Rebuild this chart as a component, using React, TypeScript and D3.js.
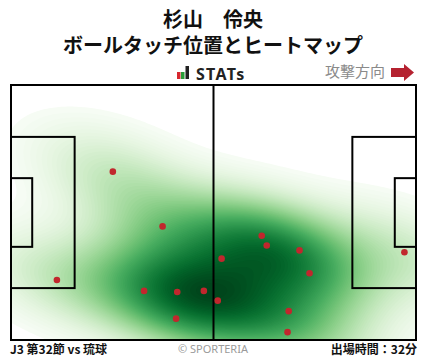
import React, { useMemo } from "react";
import * as d3 from "d3";

const titleLines = ["杉山　伶央", "ボールタッチ位置とヒートマップ"];
const matchLabel = "J3 第32節 vs 琉球";
const minutesLabel = "出場時間：32分";
const creditLabel = "© SPORTERIA";
const directionLabel = "攻撃方向";
const brandLabel = "STATs";

// touch positions in pitch metres (x along length 0..105, y across 0..68 from top)
const touchX = [26.4, 39.3, 11.9, 34.5, 43.1, 50.0, 42.8, 53.6, 54.6, 65.0, 66.3, 74.8, 77.4, 72.0, 71.7, 102.0];
const touchY = [23.1, 37.7, 52.0, 54.9, 55.2, 54.9, 62.3, 57.5, 46.3, 40.2, 42.8, 44.1, 50.2, 60.3, 65.9, 44.6];

const W = 428, H = 359;
const FX = 11, FY = 85, FW = 405, FH = 255;
const PITCH_L = 105, PITCH_W = 68;
// kernel: major / minor bandwidth in metres and tilt of the major axis
const BW_MAJOR = 15.5;
const BW_MINOR = 8.0;
const BW_ANGLE = 20;
const CUT = 0.19;

export default function App() {
  const sx = d3.scaleLinear().domain([0, PITCH_L]).range([FX, FX + FW]);
  const sy = d3.scaleLinear().domain([0, PITCH_W]).range([FY, FY + FH]);

  const layers = useMemo(() => {
    const n = touchX.length;
    const px = touchX.map((v) => sx(v));
    const py = touchY.map((v) => sy(v));
    const kx = FW / PITCH_L;
    const s1 = BW_MAJOR * kx, s2 = BW_MINOR * kx;
    const th = (BW_ANGLE * Math.PI) / 180;
    const ct = Math.cos(th), st = Math.sin(th);
    const dens = (x: number, y: number) => {
      let s = 0;
      for (let i = 0; i < n; i++) {
        const dx = x - px[i], dy = y - py[i];
        const u = (dx * ct + dy * st) / s1;
        const v = (-dx * st + dy * ct) / s2;
        s += Math.exp(-0.5 * (u * u + v * v));
      }
      return s;
    };
    const dth = CUT;
    const step = 2, x0 = FX - 2, y0 = FY - 2;
    const nx = Math.ceil((FW + 4) / step) + 1, ny = Math.ceil((FH + 4) / step) + 1;
    const vals = new Array(nx * ny);
    for (let j = 0; j < ny; j++) for (let i = 0; i < nx; i++) vals[j * nx + i] = dens(x0 + i * step, y0 + j * step);
    const dmax = d3.max(vals)!;
    const L = 80;
    const levels = d3.range(L).map((k) => dth + (dmax - dth) * (k / L));
    const color = d3
      .scaleSequentialPow(d3.interpolateGreens)
      .exponent(0.85)
      .domain([dth, dmax]);
    const contours = d3.contours().size([nx, ny]).thresholds(levels)(vals);
    const path = d3.geoPath(
      d3.geoTransform({
        point(x: number, y: number) {
          (this as any).stream.point(x0 + (x - 0.5) * step, y0 + (y - 0.5) * step);
        },
      })
    );
    return contours.map((cn, k) => ({
      d: path(cn as any) || "",
      fill: color(levels[k] + (dmax - dth) / L / 2),
    }));
  }, []);

  const paW = sx(16.5) - sx(0), paH = sy(54.16) - sy(13.84);
  const gaW = sx(5.5) - sx(0), gaH = sy(43.16) - sy(24.84);

  return (
    <svg width={W} height={H} style={{ position: "absolute", left: 0, top: 0, background: "#fff" }}>
      <rect x={0} y={0} width={W} height={H} fill="#fff" />
      <g fontFamily="'Noto Sans CJK JP', sans-serif" fontWeight="bold" fill="#111" textAnchor="middle" fontSize={20}>
        <text x={213} y={27}>{titleLines[0]}</text>
        <text x={213} y={53}>{titleLines[1]}</text>
      </g>
      <g>
        <rect x={177} y={72} width={3.5} height={7} fill="#d7282f" />
        <rect x={181} y={72} width={3.5} height={7} fill="#2a9d3a" />
        <rect x={185.5} y={66} width={3.5} height={13} fill="#222" />
        <text x={196} y={79.5} fontFamily="'Noto Sans', sans-serif" fontWeight="bold" fontSize={16} fill="#222" letterSpacing={1.3}>{brandLabel}</text>
      </g>
      <text x={385} y={77} textAnchor="end" fontFamily="'Noto Sans CJK JP', sans-serif" fontSize={15} fill="#8a8a8a">{directionLabel}</text>
      <path d="M391,68 L404,68 L404,64 L414,72.5 L404,81 L404,77 L391,77 Z" fill="#b52230" />

      <defs>
        <clipPath id="fieldClip">
          <rect x={FX} y={FY} width={FW} height={FH} />
        </clipPath>
      </defs>
      <g clipPath="url(#fieldClip)">
        {layers.map((l, i) => (
          <path key={i} d={l.d} fill={l.fill} stroke="none" />
        ))}
      </g>
      <g fill="none" stroke="#000" strokeWidth={2}>
        <rect x={FX} y={FY} width={FW} height={FH} />
        <line x1={sx(52.5)} x2={sx(52.5)} y1={FY} y2={FY + FH} />
        <rect x={sx(0)} y={sy(13.84)} width={paW} height={paH} />
        <rect x={sx(0)} y={sy(24.84)} width={gaW} height={gaH} />
        <rect x={sx(PITCH_L) - paW} y={sy(13.84)} width={paW} height={paH} />
        <rect x={sx(PITCH_L) - gaW} y={sy(24.84)} width={gaW} height={gaH} />
      </g>
      <g>
        {touchX.map((v, i) => (
          <circle key={i} cx={sx(v)} cy={sy(touchY[i])} r={3.3} fill="#c1272d" />
        ))}
      </g>
      <text x={10} y={354} fontFamily="'Noto Sans CJK JP', sans-serif" fontWeight="bold" fontSize={12} fill="#111">{matchLabel}</text>
      <text x={213} y={353} textAnchor="middle" fontFamily="'Noto Sans', sans-serif" fontSize={11} fill="#9a9a9a">{creditLabel}</text>
      <text x={417} y={354} textAnchor="end" fontFamily="'Noto Sans CJK JP', sans-serif" fontWeight="bold" fontSize={12} fill="#111">{minutesLabel}</text>
    </svg>
  );
}
